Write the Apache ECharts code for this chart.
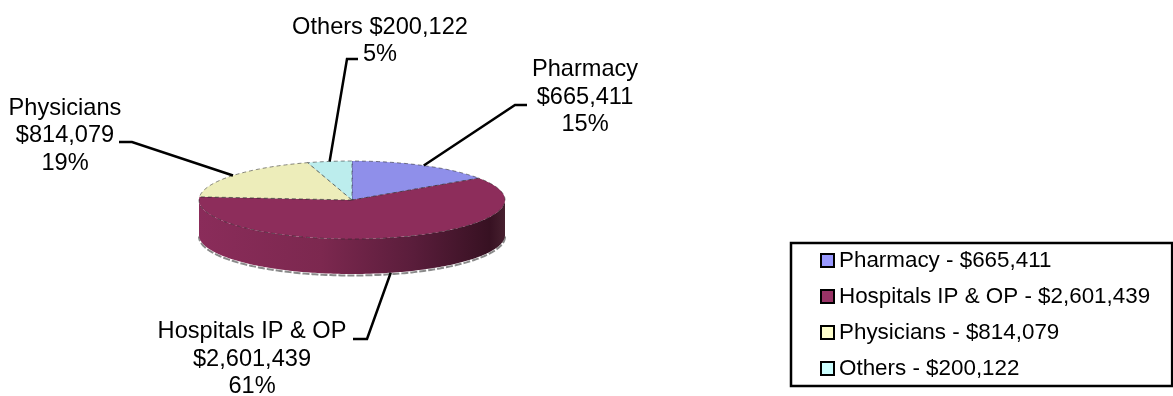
<!DOCTYPE html>
<html>
<head>
<meta charset="utf-8">
<style>html,body{margin:0;padding:0;background:#fff}#chart{width:1173px;height:396px}</style>
<script src="https://cdn.jsdelivr.net/npm/echarts@6/dist/echarts.min.js"></script>
</head>
<body>
<div id="chart"></div>
<script>
// Spending by provider type
const categories = ['Pharmacy', 'Hospitals IP & OP', 'Physicians', 'Others'];
const amounts = [665411, 2601439, 814079, 200122];
const percentLabels = ['15%', '61%', '19%', '5%'];
const legendColors = ['#9999FF', '#993366', '#FFFFCC', '#CCFFFF'];
const faceColors = ['#8F8FEA', '#8D2D5B', '#EDEDBA', '#BCEDED'];

// Disc geometry, in pixels
const disc = { cx: 352, cy: 200, rx: 153, ry: 39, depth: 35 };
// Callout elbows and label anchors for each category
const callouts = [
  { elbow: [515, 105], end: [527, 105], text: [585, 97] },
  { elbow: [367, 339], end: [353, 339], text: [252, 359] },
  { elbow: [132, 142], end: [119, 142], text: [65, 135.5] },
  { elbow: [347, 59], end: [358, 59], text: [380, 41] }
];
const FONT = '"Liberation Sans", Arial, sans-serif';

const money = v => '$' + v.toLocaleString('en-US');
const legendName = i => categories[i] + ' - ' + money(amounts[i]);
const labelText = i => i === 3
  ? categories[i] + ' ' + money(amounts[i]) + '\n' + percentLabels[i]
  : categories[i] + '\n' + money(amounts[i]) + '\n' + percentLabels[i];

const total = amounts.reduce((a, b) => a + b, 0);
let running = 0;
const sweeps = amounts.map(v => {
  const start = running / total * 360;
  running += v;
  return [start, running / total * 360];
});

// Angles run clockwise from twelve o'clock
function rim(deg, drop) {
  const t = deg * Math.PI / 180;
  return [disc.cx + disc.rx * Math.sin(t), disc.cy - disc.ry * Math.cos(t) + (drop || 0)];
}
function arc(from, to, drop) {
  const pts = [];
  const n = Math.max(2, Math.ceil(Math.abs(to - from)));
  for (let k = 0; k <= n; k++) pts.push(rim(from + (to - from) * k / n, drop));
  return pts;
}

function renderSlice(index) {
  return function (params, api) {
    const start = api.value(0), end = api.value(1);
    const children = [];
    // Front wall: only the part of the slice facing the viewer
    const a = Math.max(start, 90), b = Math.min(end, 270);
    if (b > a) {
      const bottom = arc(a, b, disc.depth);
      children.push({
        type: 'polyline', silent: true,
        shape: { points: arc(a, b, disc.depth + 1.5) },
        style: { fill: null, stroke: '#8a8a8a', lineWidth: 2, lineDash: [7, 2] }
      });
      children.push({
        type: 'polygon', silent: true,
        shape: { points: arc(a, b, 0).concat(bottom.slice().reverse()) },
        style: {
          fill: new echarts.graphic.LinearGradient(0, 0, 1, 0, [
            { offset: 0, color: '#8A2C5A' },
            { offset: 0.4, color: '#7C284F' },
            { offset: 0.7, color: '#5A1D3B' },
            { offset: 0.95, color: '#371122' },
            { offset: 1, color: '#47202F' }
          ])
        }
      });
    }
    // Top face
    children.push({
      type: 'polygon', silent: true,
      shape: { points: [[disc.cx, disc.cy]].concat(arc(start, end, 0)) },
      style: { fill: faceColors[index], stroke: 'rgba(40,40,40,0.55)', lineWidth: 1, lineDash: [4, 3] }
    });
    // Callout from the slice's mid-angle rim point
    const mid = (start + end) / 2;
    const facing = mid > 90 && mid < 270;
    const c = callouts[index];
    children.push({
      type: 'polyline', silent: true,
      shape: { points: [rim(mid, facing ? disc.depth : 0), c.elbow, c.end] },
      style: { fill: null, stroke: '#000', lineWidth: 2.5 }
    });
    children.push({
      type: 'text', silent: true,
      style: {
        x: c.text[0], y: c.text[1], text: labelText(index),
        align: 'center', verticalAlign: 'middle',
        fontFamily: FONT, fontSize: 23.6, lineHeight: 27.5, fill: '#000'
      }
    });
    return { type: 'group', children };
  };
}

const chart = echarts.init(document.getElementById('chart'), null, { renderer: 'canvas' });
chart.setOption({
  animation: false,
  backgroundColor: '#fff',
  legend: {
    left: 791, top: 243,
    orient: 'vertical',
    selectedMode: false,
    icon: 'rect',
    itemWidth: 13, itemHeight: 13,
    itemGap: 11,
    padding: [5, 22, 5, 29],
    backgroundColor: '#fff',
    borderColor: '#000',
    borderWidth: 2.5,
    borderRadius: 0,
    itemStyle: { borderColor: '#000', borderWidth: 2 },
    textStyle: { fontFamily: FONT, fontSize: 22.4, color: '#000', lineHeight: 25, padding: 0 },
    data: categories.map((_, i) => legendName(i))
  },
  series: categories.map((_, i) => ({
    type: 'custom',
    name: legendName(i),
    coordinateSystem: 'none',
    renderItem: renderSlice(i),
    itemStyle: { color: legendColors[i] },
    clip: false,
    silent: true,
    data: [sweeps[i]]
  }))
});
</script>
</body>
</html>
